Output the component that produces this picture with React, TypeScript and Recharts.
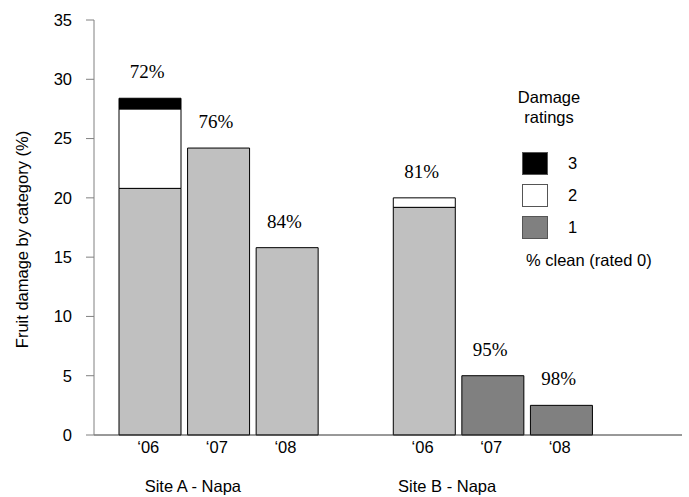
import React from "react";
import {
  ComposedChart,
  Bar,
  Line,
  XAxis,
  YAxis,
  Cell,
  LabelList,
  Label,
  Legend,
} from "recharts";

// ---- data ----
const years = ["\u201806", "\u201807", "\u201808", "", "\u201806", "\u201807", "\u201808"];
const sites = ["", "Site A - Napa", "", "", "", "Site B - Napa", ""];
const rating1 = [20.8, 24.2, 15.8, null, 19.2, 5.0, 2.5];
const rating2 = [6.7, 0, 0, null, 0.8, 0, 0];
const rating3 = [0.9, 0, 0, null, 0, 0, 0];
const cleanPct = [72, 76, 84, null, 81, 95, 98];
const yTicks = [0, 5, 10, 15, 20, 25, 30, 35];

// ---- styles ----
const SANS = "'Liberation Sans', Arial, Helvetica, sans-serif";
const SERIF = "'Liberation Serif', 'Times New Roman', serif";
const FS = 16.5;
const LIGHT = "#C0C0C0";
const DARK = "#808080";
const rating1Fill = [LIGHT, LIGHT, LIGHT, LIGHT, LIGHT, DARK, DARK];
const siteDx: Record<string, number> = { "Site A - Napa": -26, "Site B - Napa": -46 };

const data = years.map((year, i) => {
  const r1 = rating1[i];
  const r2 = rating2[i];
  const r3 = rating3[i];
  return {
    year,
    site: sites[i],
    r1,
    r2,
    r3,
    total: r1 == null ? null : (r1 as number) + (r2 as number) + (r3 as number),
    clean: cleanPct[i],
  };
});

const YearTick = (props: any) => {
  const { x, y, payload } = props;
  const idx = payload.index;
  const site = sites[idx];
  return (
    <g>
      <text
        x={x - 2}
        y={y + 12}
        dy="0.35em"
        textAnchor="middle"
        fontFamily={SANS}
        fontSize={FS}
        fill="#000"
      >
        {payload.value}
      </text>
      {site ? (
        <text
          x={x + (siteDx[site] || 0)}
          y={y + 51}
          dy="0.35em"
          textAnchor="middle"
          fontFamily={SANS}
          fontSize={FS}
          fill="#000"
        >
          {site}
        </text>
      ) : null}
    </g>
  );
};

const PctLabel = (props: any) => {
  const { x, y, value } = props;
  if (value == null || x == null || y == null) return null;
  return (
    <text
      x={x - 3}
      y={y - 20}
      textAnchor="middle"
      fontFamily={SERIF}
      fontSize={19}
      fill="#000"
    >
      {value}%
    </text>
  );
};

const YLabel = (props: any) => {
  const vb = props.viewBox || { x: 0, y: 20, width: 94, height: 415 };
  const cx = 22;
  const cy = vb.y + vb.height / 2 + 12;
  return (
    <text
      x={cx}
      y={cy}
      transform={`rotate(-90, ${cx}, ${cy})`}
      textAnchor="middle"
      dy="0.35em"
      fontFamily={SANS}
      fontSize={FS}
      fill="#000"
    >
      Fruit damage by category (%)
    </text>
  );
};

const LegendContent = (props: any) => {
  const payload = (props.payload || []).filter((p: any) => p.type !== "none");
  const items = [...payload].reverse();
  return (
    <div style={{ position: "relative", width: 180, height: 190, fontFamily: SANS, fontSize: FS, color: "#000" }}>
      <div
        style={{
          position: "absolute",
          left: 0,
          top: 2,
          width: 98,
          textAlign: "center",
          lineHeight: "20px",
        }}
      >
        Damage
        <br />
        ratings
      </div>
      {items.map((it: any, i: number) => (
        <React.Fragment key={it.value}>
          <div
            style={{
              position: "absolute",
              left: 22,
              top: 67 + i * 32,
              width: 24,
              height: 21,
              background: it.color,
              border: "1px solid #555",
            }}
          />
          <div
            style={{
              position: "absolute",
              left: 68,
              top: 67 + i * 32,
              height: 23,
              lineHeight: "23px",
            }}
          >
            {it.value}
          </div>
        </React.Fragment>
      ))}
      <div style={{ position: "absolute", left: 26, top: 165, lineHeight: "20px", whiteSpace: "nowrap" }}>
        % clean (rated 0)
      </div>
    </div>
  );
};

export default function App() {
  return (
    <div style={{ position: "absolute", left: 0, top: 0, background: "#fff" }}>
      <ComposedChart
        width={689}
        height={497}
        data={data}
        margin={{ top: 20, right: 7, left: 0, bottom: 0 }}
        barGap={0}
      >
        <XAxis
          dataKey="year"
          height={62}
          padding={{ left: 22, right: 86 }}
          tickLine={false}
          tickSize={0}
          tickMargin={0}
          axisLine={{ stroke: "#333", strokeWidth: 1 }}
          tick={<YearTick />}
          interval={0}
        />
        <YAxis
          width={94}
          domain={[0, 35]}
          ticks={yTicks}
          interval={0}
          tickSize={8}
          tickMargin={14}
          axisLine={{ stroke: "#808080" }}
          tickLine={{ stroke: "#808080" }}
          tick={{ fontFamily: SANS, fontSize: FS, fill: "#000" }}
        >
          <Label content={<YLabel />} />
        </YAxis>
        <Bar dataKey="r1" name="1" stackId="a" fill={DARK} stroke="#000" strokeWidth={1} barSize={62} isAnimationActive={false}>
          {data.map((_, i) => (
            <Cell key={i} fill={rating1Fill[i]} />
          ))}
        </Bar>
        <Bar dataKey="r2" name="2" stackId="a" fill="#FFFFFF" stroke="#000" strokeWidth={1} barSize={62} isAnimationActive={false} />
        <Bar dataKey="r3" name="3" stackId="a" fill="#000000" stroke="#000" strokeWidth={1} barSize={62} isAnimationActive={false} />
        <Line
          dataKey="total"
          stroke="none"
          dot={false}
          activeDot={false}
          legendType="none"
          isAnimationActive={false}
        >
          <LabelList dataKey="clean" content={<PctLabel />} />
        </Line>
        <Legend
          layout="vertical"
          align="center"
          verticalAlign="middle"
          content={<LegendContent />}
          wrapperStyle={{ position: "absolute", left: 500, top: 85, width: 180, height: 190 }}
        />
      </ComposedChart>
    </div>
  );
}
